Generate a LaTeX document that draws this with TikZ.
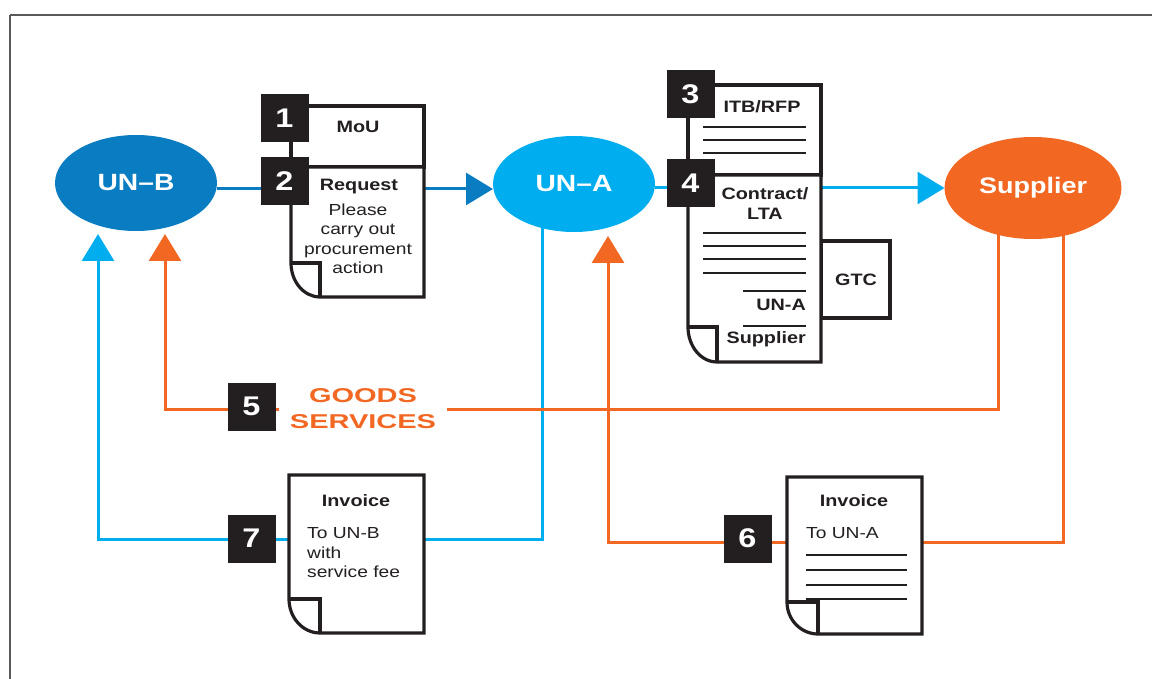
\documentclass[tikz,border=0pt]{standalone}
\usepackage{fontspec}
\setmainfont{Liberation Sans}[FakeStretch=1.2]
\newfontfamily\widefont{Liberation Sans}[FakeStretch=1.45]
\usetikzlibrary{shapes.geometric,arrows.meta,calc}
\definecolor{dblue}{HTML}{0A7DC2}
\definecolor{lblue}{HTML}{00AEEF}
\definecolor{orng}{HTML}{F26722}
\definecolor{ink}{HTML}{231F20}
\definecolor{framegray}{HTML}{58595B}
\pgfdeclarelayer{bg}
\pgfsetlayers{bg,main}
\newcommand\docoutline[3]{%
  \draw[docline, fill=white] (#1.north west) -- (#1.north east) -- (#1.south east) -- ([xshift=#2]#1.south west) arc[start angle=270, end angle=180, x radius=#2, y radius=#3] -- cycle;
  \draw[docline] ([yshift=#3]#1.south west) -| ([xshift=#2]#1.south west);
}
\begin{document}
\begin{tikzpicture}[x=1pt,y=-1pt,
  ell/.style={ellipse, inner sep=0pt, outer sep=0pt, text=white, font=\bfseries\fontsize{23.5}{27}\selectfont},
  numbox/.style={fill=ink, text=white, minimum size=48pt, inner sep=0pt, outer sep=0pt, font=\bfseries\fontsize{27}{30}\selectfont},
  docarea/.style={inner sep=0pt, outer sep=0pt, draw=none},
  docline/.style={draw=ink, line width=3.2pt, line join=miter},
  rule/.style={draw=ink, line width=1.8pt},
  dtitle/.style={font=\bfseries\fontsize{16.5}{20}\selectfont, text=ink, inner sep=0pt},
  dtext/.style={font=\fontsize{16}{19.5}\selectfont, text=ink, inner sep=0pt},
  conn/.style={line width=3pt},
  tip/.style={-{Triangle[length=27pt,width=32pt]}}
]
\useasboundingbox (0,0) rectangle (1152,679);
% frame
\draw[framegray, line width=1.5pt] (10,15) -- (1152,15);
\draw[framegray, line width=1.5pt] (10,15) -- (10,679);

% ellipses
\node[ell, fill=dblue, minimum width=162pt, minimum height=96pt] (unb) at (136,183) {UN–B};
\node[ell, fill=lblue, minimum width=162pt, minimum height=96pt] (una) at (574,184) {UN–A};
\node[ell, fill=orng, minimum width=177pt, minimum height=102pt, font=\bfseries\fontsize{22.5}{26}\selectfont] (sup) at (1033,188) {Supplier};

% route coordinates
\coordinate (c7a) at (542,539);
\coordinate (c7b) at (98,539);
\coordinate (c5a) at (998,409);
\coordinate (c5b) at (165,409);
\coordinate (c6a) at (1063,542);
\coordinate (c6b) at (608,542);

\begin{pgfonlayer}{bg}
\draw[conn, dblue, tip] ([yshift=-6pt]unb.east) -- ([yshift=-5pt]una.west);
\draw[conn, lblue, tip] ([yshift=-4pt]una.east) -- (sup.west);
\draw[conn, lblue, tip, shorten >=3pt] (c7a |- una.center) -- (c7a) -- (c7b) -- (c7b |- unb.south);
\draw[conn, orng, tip, shorten >=3pt] (c5a |- sup.center) -- (c5a) -- (c5b) -- (c5b |- unb.south);
\draw[conn, orng, tip, shorten >=4pt] (c6a |- sup.center) -- (c6a) -- (c6b) -- (c6b |- una.south);
\end{pgfonlayer}

% doc 1 and 2
\node[docarea, minimum width=133pt, minimum height=61pt] (d1) at (357.5,136.5) {};
\node[docarea, minimum width=133pt, minimum height=130pt] (d2) at (357.5,232) {};
\draw[docline, fill=white] (d1.north west) rectangle (d1.south east);
\docoutline{d2}{29pt}{34pt}
\node[dtitle] (t1) at (358,127) {MoU};
\node[dtitle] (t2) at (359,187) {Request};
\node[dtext, align=center] (t2b) at (358,239) {Please\\carry out\\procurement\\action};
\node[numbox] (n1) at (284.5,118.5) {1};
\node[numbox] (n2) at (284.5,181) {2};

% doc 3, GTC and doc 4
\node[docarea, minimum width=133pt, minimum height=90pt] (d3) at (754.5,130) {};
\node[docarea, minimum width=133pt, minimum height=187pt] (d4) at (754.5,268.5) {};
\node[docarea, minimum width=69pt, minimum height=77pt] (gtc) at (855.5,279.5) {};
\draw[docline, fill=white] (d3.north west) rectangle (d3.south east);
\draw[docline, fill=white] (gtc.north west) rectangle (gtc.south east);
\docoutline{d4}{29pt}{35pt}
\node[dtitle] (t3) at (762,107) {ITB/RFP};
\draw[rule] (703,127) -- (806,127);
\draw[rule] (703,140) -- (806,140);
\draw[rule] (703,153) -- (806,153);
\node[dtitle, align=center] (t4) at (765,204) {Contract/\\LTA};
\draw[rule] (703,233) -- (806,233);
\draw[rule] (703,246) -- (806,246);
\draw[rule] (703,259) -- (806,259);
\draw[rule] (703,273) -- (806,273);
\draw[rule] (743,291) -- (806,291);
\draw[rule] (743,326) -- (806,326);
\node[dtitle, anchor=east] (t4a) at (806,305) {UN-A};
\node[dtitle, anchor=east] (t4b) at (806,339) {Supplier};
\node[dtitle] (tg) at (856,280) {GTC};
\node[numbox] (n3) at (690.5,94.5) {3};
\node[numbox] (n4) at (690.5,183) {4};

% goods / services
\node[numbox] (n5) at (251.5,406.5) {5};
\node[fill=white, minimum width=168pt, inner sep=1pt, align=center, text=orng,
      font=\widefont\bfseries\fontsize{20}{26}\selectfont] (goods) at (363,409) {GOODS\\SERVICES};

% doc 7
\node[docarea, minimum width=135pt, minimum height=158pt] (d7) at (356.5,554) {};
\docoutline{d7}{31pt}{34pt}
\node[dtitle] (t7) at (356,501) {Invoice};
\node[dtext, align=left, anchor=west] (t7b) at (307,553) {To UN-B\\with\\service fee};
\node[numbox] (n7) at (251.5,538.5) {7};

% doc 6
\node[docarea, minimum width=135pt, minimum height=157pt] (d6) at (854.5,555.5) {};
\docoutline{d6}{31pt}{32pt}
\node[dtitle] (t6) at (854,501) {Invoice};
\node[dtext, anchor=west] (t6b) at (806,533) {To UN-A};
\draw[rule] (806,555) -- (907,555);
\draw[rule] (806,570) -- (907,570);
\draw[rule] (806,585) -- (907,585);
\draw[rule] (806,599) -- (907,599);
\node[numbox] (n6) at (747.5,538.5) {6};
\end{tikzpicture}
\end{document}
